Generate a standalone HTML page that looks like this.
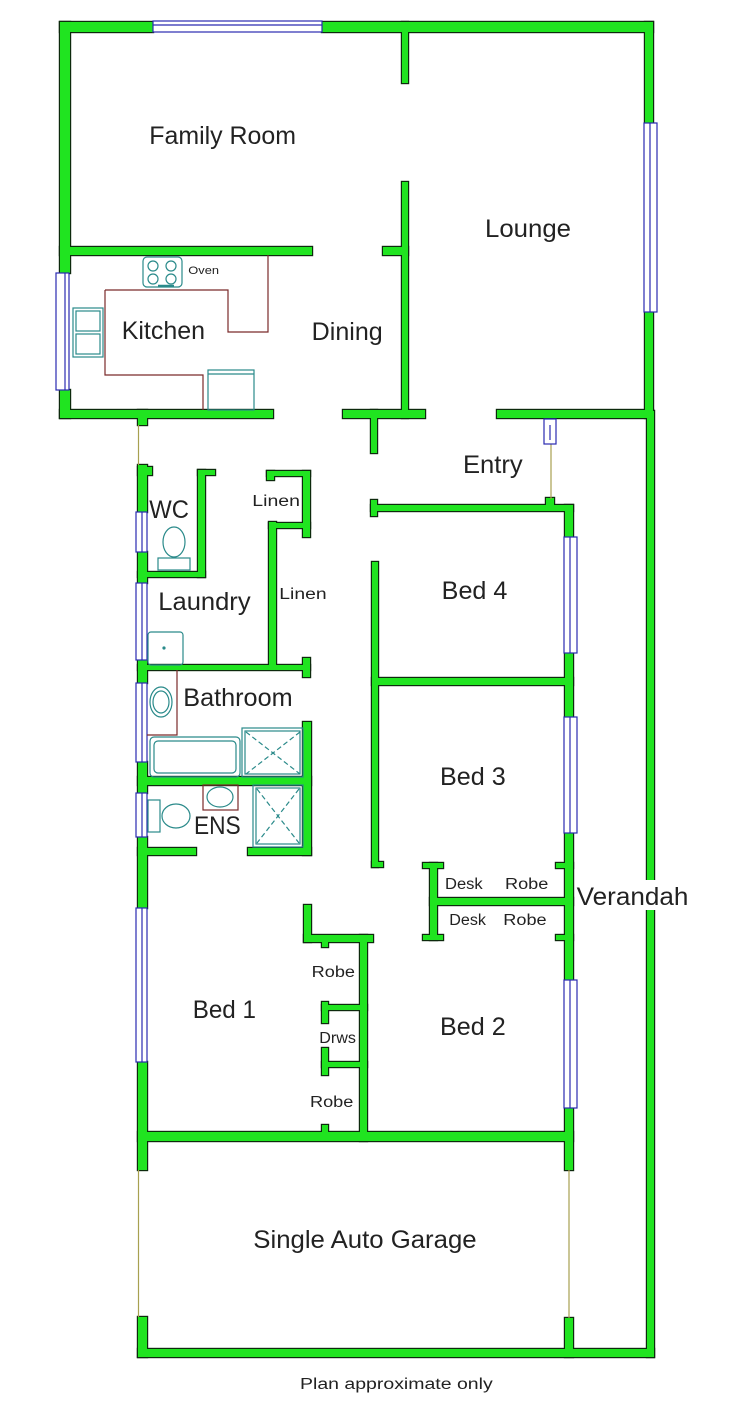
<!DOCTYPE html>
<html><head><meta charset="utf-8"><style>
html,body{margin:0;padding:0;background:#fff;}
svg{display:block;}
text{font-family:"Liberation Sans",Arial,sans-serif;fill:#222;}
</style></head><body>
<svg width="750" height="1426" viewBox="0 0 750 1426" xmlns="http://www.w3.org/2000/svg">
<rect x="0" y="0" width="750" height="1426" fill="#fff"/>
<defs>
<g id="w">
<!-- top -->
<rect x="60" y="22" width="93" height="10"/>
<rect x="322" y="22" width="331" height="10"/>
<!-- left upper -->
<rect x="60" y="22" width="10" height="251"/>
<rect x="60" y="390" width="10" height="28"/>
<!-- family/kitchen divider -->
<rect x="60" y="247" width="252" height="8"/>
<rect x="383" y="247" width="25" height="8"/>
<!-- center vertical -->
<rect x="402" y="22" width="6" height="61"/>
<rect x="402" y="182" width="6" height="236"/>
<!-- kitchen bottom -->
<rect x="60" y="410" width="213" height="8"/>
<rect x="138" y="410" width="9" height="15"/>
<rect x="343" y="410" width="82" height="8"/>
<rect x="371" y="410" width="6" height="43"/>
<rect x="497" y="410" width="156" height="8"/>
<!-- right lounge wall -->
<rect x="645" y="22" width="8" height="101"/>
<rect x="645" y="312" width="8" height="106"/>
<!-- verandah outer -->
<rect x="647" y="411" width="7" height="946"/>
<!-- entry stub -->
<rect x="546" y="498" width="8" height="10"/>
<!-- bed4 top -->
<rect x="371" y="505" width="202" height="6"/>
<rect x="371" y="500" width="6" height="16"/>
<!-- right bed wall -->
<rect x="565" y="505" width="8" height="32"/>
<rect x="565" y="653" width="8" height="64"/>
<rect x="565" y="833" width="8" height="147"/>
<rect x="565" y="1108" width="8" height="62"/>
<rect x="565" y="1318" width="8" height="39"/>
<!-- bed4/bed3 -->
<rect x="372" y="678" width="201" height="7"/>
<rect x="372" y="562" width="6" height="305"/>
<rect x="372" y="862" width="11" height="5"/>
<!-- desk/robe -->
<rect x="430" y="863" width="7" height="77"/>
<rect x="423" y="863" width="20" height="5"/>
<rect x="423" y="935" width="20" height="5"/>
<rect x="430" y="898" width="143" height="7"/>
<rect x="556" y="863" width="17" height="5"/>
<rect x="556" y="935" width="17" height="5"/>
<!-- left lower wall -->
<rect x="138" y="465" width="9" height="47"/>
<rect x="138" y="552" width="9" height="31"/>
<rect x="138" y="660" width="9" height="23"/>
<rect x="138" y="762" width="9" height="31"/>
<rect x="138" y="837" width="9" height="71"/>
<rect x="138" y="1062" width="9" height="108"/>
<rect x="138" y="1317" width="9" height="40"/>
<!-- WC -->
<rect x="138" y="467" width="14" height="8"/>
<rect x="198" y="470" width="7" height="107"/>
<rect x="198" y="470" width="17" height="5"/>
<rect x="138" y="572" width="67" height="5"/>
<!-- laundry bottom -->
<rect x="138" y="665" width="172" height="5"/>
<!-- linen -->
<rect x="269" y="522" width="7" height="145"/>
<rect x="267" y="471" width="43" height="5"/>
<rect x="267" y="471" width="7" height="9"/>
<rect x="303" y="471" width="7" height="66"/>
<rect x="269" y="523" width="41" height="5"/>
<rect x="303" y="658" width="7" height="19"/>
<!-- bath / ens -->
<rect x="303" y="722" width="8" height="133"/>
<rect x="138" y="777" width="173" height="8"/>
<rect x="138" y="848" width="58" height="7"/>
<rect x="248" y="848" width="63" height="7"/>
<!-- robe -->
<rect x="304" y="905" width="7" height="37"/>
<rect x="304" y="935" width="69" height="7"/>
<rect x="360" y="935" width="7" height="206"/>
<rect x="322" y="940" width="6" height="7"/>
<rect x="322" y="1125" width="6" height="10"/>
<rect x="322" y="1005" width="45" height="5"/>
<rect x="322" y="1002" width="6" height="21"/>
<rect x="322" y="1062" width="45" height="5"/>
<rect x="322" y="1048" width="6" height="27"/>
<!-- bed1 / garage -->
<rect x="138" y="1132" width="435" height="9"/>
<rect x="138" y="1349" width="516" height="8"/>
</g>
</defs>
<use href="#w" fill="#0d2a0d" stroke="#0d2a0d" stroke-width="2.4"/>
<use href="#w" fill="#20e420"/>

<!-- thin olive openings -->
<g stroke="#a8a050" stroke-width="1.2" fill="none">
<line x1="138.5" y1="425" x2="138.5" y2="465"/>
<line x1="551" y1="444" x2="551" y2="499"/>
<line x1="138.5" y1="1170" x2="138.5" y2="1317"/>
<line x1="569" y1="1170" x2="569" y2="1318"/>
</g>

<!-- windows -->
<g stroke="#2a2ab0" stroke-width="1.2" fill="#fff">
<rect x="153" y="21" width="169" height="11"/>
<line x1="153" y1="25" x2="322" y2="25"/>
<rect x="644" y="123" width="13" height="189"/>
<line x1="650" y1="123" x2="650" y2="312"/>
<rect x="56" y="273" width="13" height="117"/>
<line x1="65" y1="273" x2="65" y2="390"/>
<rect x="544" y="419" width="12" height="25"/>
<line x1="550" y1="425" x2="550" y2="440"/>
<rect x="564" y="537" width="13" height="116"/>
<line x1="570" y1="537" x2="570" y2="653"/>
<rect x="564" y="717" width="13" height="116"/>
<line x1="570" y1="717" x2="570" y2="833"/>
<rect x="564" y="980" width="13" height="128"/>
<line x1="570" y1="980" x2="570" y2="1108"/>
<rect x="136" y="512" width="11" height="40"/>
<line x1="142" y1="512" x2="142" y2="552"/>
<rect x="136" y="583" width="11" height="77"/>
<line x1="142" y1="583" x2="142" y2="660"/>
<rect x="136" y="683" width="11" height="79"/>
<line x1="142" y1="683" x2="142" y2="762"/>
<rect x="136" y="793" width="11" height="44"/>
<line x1="142" y1="793" x2="142" y2="837"/>
<rect x="136" y="908" width="11" height="154"/>
<line x1="142" y1="908" x2="142" y2="1062"/>
</g>

<!-- kitchen bench -->
<g stroke="#7a2a2a" stroke-width="1.2" fill="none">
<polyline points="105,290 228,290 228,332 268,332 268,255"/>
<polyline points="105,290 105,375 203,375 203,410"/>
<polyline points="177,670 177,735 147,735"/>
<rect x="203" y="785" width="35" height="25"/>
</g>

<!-- fixtures -->
<g stroke="#2a8a8a" stroke-width="1.2" fill="none">
<rect x="143" y="257" width="39" height="30" rx="4"/>
<circle cx="153" cy="266" r="5"/><circle cx="171" cy="266" r="5"/>
<circle cx="153" cy="279" r="5"/><circle cx="171" cy="279" r="5"/>
<line x1="158" y1="286" x2="174" y2="286" stroke-width="2.5"/>
<rect x="73" y="308" width="30" height="49"/>
<rect x="76" y="311" width="24" height="20"/>
<rect x="76" y="334" width="24" height="20"/>
<rect x="208" y="370" width="46" height="40"/>
<line x1="208" y1="374" x2="254" y2="374"/>
<ellipse cx="174" cy="542" rx="11" ry="15"/>
<rect x="158" y="558" width="32" height="12"/>
<rect x="148" y="632" width="35" height="33" rx="3"/>
<circle cx="164" cy="648" r="1" fill="#2a8a8a"/>
<ellipse cx="161" cy="702" rx="11" ry="15"/>
<ellipse cx="161" cy="702" rx="8" ry="11"/>
<rect x="150" y="737" width="90" height="40" rx="4"/>
<rect x="154" y="741" width="82" height="32" rx="4"/>
<rect x="242" y="728" width="61" height="49"/>
<rect x="245" y="731" width="55" height="43"/>
<line x1="246" y1="732" x2="300" y2="774" stroke-dasharray="5,3"/>
<line x1="300" y1="732" x2="246" y2="774" stroke-dasharray="5,3"/>
<rect x="148" y="800" width="12" height="32"/>
<ellipse cx="176" cy="816" rx="14" ry="12"/>
<ellipse cx="220" cy="797" rx="13" ry="10"/>
<rect x="253" y="785" width="50" height="62"/>
<rect x="256" y="788" width="44" height="56"/>
<line x1="257" y1="789" x2="299" y2="843" stroke-dasharray="5,3"/>
<line x1="299" y1="789" x2="257" y2="843" stroke-dasharray="5,3"/>
</g>

<!-- labels -->
<g font-size="25">
<text x="149.3" y="144" textLength="146.7" lengthAdjust="spacingAndGlyphs">Family Room</text>
<text x="485" y="237" textLength="86" lengthAdjust="spacingAndGlyphs">Lounge</text>
<text x="121.7" y="339" textLength="83.3" lengthAdjust="spacingAndGlyphs">Kitchen</text>
<text x="311.7" y="340" textLength="71" lengthAdjust="spacingAndGlyphs">Dining</text>
<text x="463" y="473" textLength="59.7" lengthAdjust="spacingAndGlyphs">Entry</text>
<text x="149.3" y="518" textLength="39.7" lengthAdjust="spacingAndGlyphs">WC</text>
<text x="158.3" y="610" textLength="92.3" lengthAdjust="spacingAndGlyphs">Laundry</text>
<text x="183.3" y="706" textLength="109.3" lengthAdjust="spacingAndGlyphs">Bathroom</text>
<text x="194" y="834" textLength="46.7" lengthAdjust="spacingAndGlyphs">ENS</text>
<text x="441.7" y="599" textLength="65.7" lengthAdjust="spacingAndGlyphs">Bed 4</text>
<text x="440" y="785" textLength="65.7" lengthAdjust="spacingAndGlyphs">Bed 3</text>
<text x="192.7" y="1018" textLength="63.3" lengthAdjust="spacingAndGlyphs">Bed 1</text>
<text x="440" y="1035" textLength="65.7" lengthAdjust="spacingAndGlyphs">Bed 2</text>
<text x="253.3" y="1248" textLength="223.3" lengthAdjust="spacingAndGlyphs">Single Auto Garage</text>
</g>
<rect x="576" y="880" width="114" height="30" fill="#fff"/>
<text x="576.7" y="905" font-size="25" textLength="111.7" lengthAdjust="spacingAndGlyphs">Verandah</text>
<g font-size="15.5">
<text x="252.3" y="506" textLength="47.7" lengthAdjust="spacingAndGlyphs">Linen</text>
<text x="279.3" y="599" textLength="47.3" lengthAdjust="spacingAndGlyphs">Linen</text>
<text x="445" y="889" textLength="37.7" lengthAdjust="spacingAndGlyphs">Desk</text>
<text x="505" y="889" textLength="43.3" lengthAdjust="spacingAndGlyphs">Robe</text>
<text x="449.3" y="925" textLength="36.7" lengthAdjust="spacingAndGlyphs">Desk</text>
<text x="503.3" y="925" textLength="43.3" lengthAdjust="spacingAndGlyphs">Robe</text>
<text x="311.7" y="977" textLength="43.3" lengthAdjust="spacingAndGlyphs">Robe</text>
<text x="319.3" y="1043" textLength="36.7" lengthAdjust="spacingAndGlyphs">Drws</text>
<text x="310" y="1107" textLength="43.3" lengthAdjust="spacingAndGlyphs">Robe</text>
<text x="300" y="1389" textLength="192.7" lengthAdjust="spacingAndGlyphs">Plan approximate only</text>
</g>
<text x="188.3" y="274" font-size="11" textLength="30.7" lengthAdjust="spacingAndGlyphs">Oven</text>
</svg>
</body></html>
